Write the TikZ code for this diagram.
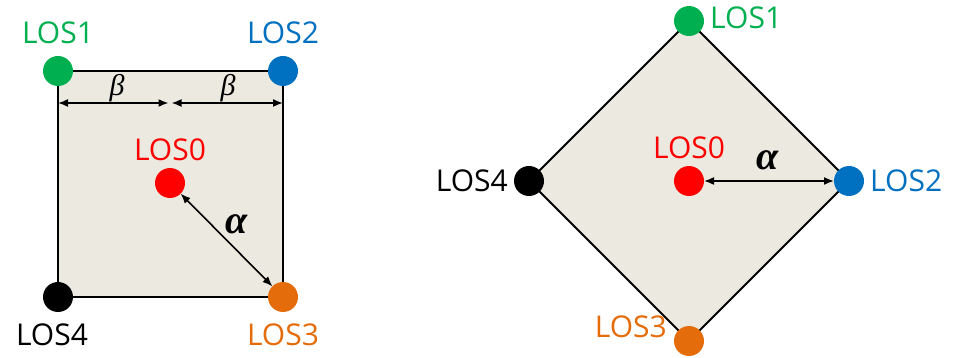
\documentclass[tikz,border=0pt]{standalone}
\usepackage{fontspec}
\setmainfont{Open Sans}
\newfontfamily\greekfont{Liberation Serif}
\usetikzlibrary{arrows.meta,positioning}
\definecolor{losgreen}{HTML}{00B050}
\definecolor{losblue}{HTML}{0070C0}
\definecolor{losred}{HTML}{FF0000}
\definecolor{losorange}{HTML}{E46C0A}
\definecolor{paper}{HTML}{ECEAE0}

\begin{document}
\begin{tikzpicture}[
    x=1pt, y=-1pt,
    dot/.style={circle, minimum size=30pt, inner sep=0pt, outer sep=0pt},
    lbl/.style={font=\fontsize{30}{30}\selectfont, inner sep=0pt},
    beta/.style={font=\fontsize{30}{30}\selectfont\greekfont\itshape, inner sep=0pt},
    alpha/.style={font=\fontsize{40}{40}\selectfont\greekfont\bfseries\itshape, inner sep=0pt},
    area/.style={draw=black, line width=2pt, fill=paper},
    arrow/.style={line width=1.6pt, {Latex[length=10pt,width=8pt]}-{Latex[length=10pt,width=8pt]}}
]
\useasboundingbox (0,0) rectangle (956,358);

% Square layout
\draw[area] (58,71) rectangle (283,297);
\node[dot, fill=losgreen] (l1) at (58,71) {};
\node[dot, fill=losblue] (l2) at (283,71) {};
\node[dot, fill=losorange] (l3) at (283,297) {};
\node[dot, fill=black] (l4) at (58,297) {};
\node[dot, fill=losred] (l0) at (170,183) {};

\node[lbl, text=losgreen, above=12pt of l1] (t1) {LOS1};
\node[lbl, text=losblue, above=12pt of l2] (t2) {LOS2};
\node[lbl, text=losorange, below=12pt of l3] (t3) {LOS3};
\node[lbl, text=black, below=12pt of l4, xshift=-6pt] (t4) {LOS4};
\node[lbl, text=losred, above=7pt of l0] (t0) {LOS0};

% Beta spacing
\coordinate (bl) at (58,103);
\coordinate (bm) at (170,103);
\coordinate (br) at (283,103);
\draw[arrow] (bl) -- ([xshift=-1.5pt]bm);
\draw[arrow] ([xshift=1.5pt]bm) -- (br);
\node[beta] (beta1) at (117,88) {β};
\node[beta] (beta2) at (228,88) {β};

% Alpha distance
\draw[arrow] (l0) -- (l3);
\node[alpha] (alpha1) at (237,224) {α};

% Diamond layout
\draw[area] (689,21) -- (849,181) -- (689,341) -- (529,181) -- cycle;
\node[dot, fill=losgreen] (r1) at (689,21) {};
\node[dot, fill=losblue] (r2) at (849,181) {};
\node[dot, fill=losorange] (r3) at (689,341) {};
\node[dot, fill=black] (r4) at (529,181) {};
\node[dot, fill=losred] (r0) at (689,181) {};

\node[lbl, text=losgreen, right=6pt of r1, yshift=3pt] (u1) {LOS1};
\node[lbl, text=losblue, right=6pt of r2] (u2) {LOS2};
\node[lbl, text=losorange, anchor=east] (u3) at ([xshift=-7pt, yshift=14pt]r3.west) {LOS3};
\node[lbl, text=black, left=6pt of r4] (u4) {LOS4};
\node[lbl, text=losred, above=7pt of r0] (u0) {LOS0};

\draw[arrow] (r0) -- (r2);
\node[alpha] (alpha2) at (768,160) {α};
\end{tikzpicture}
\end{document}
